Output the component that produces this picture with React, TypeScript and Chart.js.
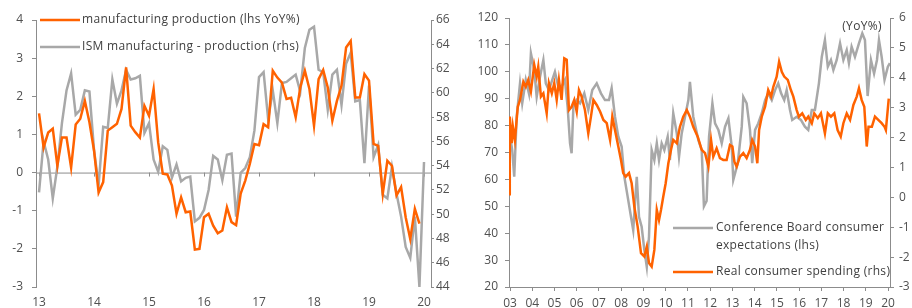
import React, { useEffect, useRef } from "react";
import { Chart, registerables } from "chart.js";

Chart.register(...registerables);

const ORANGE = "#FF6200";
const GREY = "#A8A8A8";
const AXIS = "#8C8C8C";
const TEXT = "#505050";
const FONT = "'Open Sans', 'Noto Sans', sans-serif";

// ---------- Left panel: manufacturing (monthly, from Jan 2013) ----------
const leftStartYear = 2013;
const leftTickYears = [2013, 2014, 2015, 2016, 2017, 2018, 2019, 2020];
const mfgProductionYoY = [
  1.55, 0.66, 1.05, 1.15, 0.18, 0.92, 0.92, 0.13, 1.26, 1.41,
  1.88, 1.32, 0.58, -0.52, -0.25, 1.1, 1.19, 1.28, 1.67, 2.76,
  1.23, 1.06, 0.92, 1.75, 1.49, 2.19, 0.79, -0.03, -0.05, -0.34,
  -1.08, -0.65, -1.04, -1.02, -2.02, -2.0, -1.17, -1.08, -1.39, -1.59,
  -1.52, -0.91, -1.3, -1.38, -0.55, -0.21, 0.23, 0.75, 0.72, 1.27,
  1.19, 2.67, 2.49, 2.36, 1.93, 1.96, 1.45, 2.23, 2.67, 2.19,
  1.23, 2.45, 2.69, 2.23, 1.36, 1.88, 2.28, 3.28, 3.45, 1.97,
  1.97, 2.58, 2.41, 0.75, 0.7, -0.56, 0.31, 0.18, -0.6, -0.38,
  -1.17, -1.74, -0.95, -1.34,
];
const ismProduction = [
  51.8, 56.0, 54.5, 51.3, 53.9, 57.5, 60.2, 61.6, 58.2, 58.6,
  60.2, 60.1, 55.3, 52.4, 57.2, 57.1, 61.1, 59.1, 60.2, 61.9,
  61.1, 61.2, 61.4, 56.7, 57.5, 54.5, 53.5, 55.6, 55.3, 53.0,
  54.1, 52.7, 53.0, 53.1, 49.4, 49.7, 50.35, 52.0, 54.8, 54.5,
  52.8, 54.9, 55.0, 49.8, 53.4, 53.8, 54.7, 56.9, 61.3, 61.7,
  57.8, 60.2, 57.5, 60.8, 60.9, 61.2, 61.5, 60.1, 63.7, 65.2,
  65.45, 61.9, 61.7, 58.6, 61.5, 61.9, 59.0, 62.4, 63.3, 59.3,
  59.4, 54.2, 60.6, 54.7, 55.7, 51.6, 51.3, 53.9, 51.7, 49.8,
  47.3, 46.4, 49.8, 44.0, 54.3,
];
const leftLabels = ["manufacturing production (lhs YoY%)", "ISM manufacturing - production (rhs)"];

// ---------- Right panel: consumer ----------
const rightTickYears = [
  2003, 2004, 2005, 2006, 2007, 2008, 2009, 2010, 2011,
  2012, 2013, 2014, 2015, 2016, 2017, 2018, 2019, 2020,
];
const cbYears = [
  2002.96, 2003.1, 2003.19, 2003.3, 2003.45, 2003.55, 2003.71, 2003.85, 2003.94, 2004.09,
  2004.2, 2004.35, 2004.5, 2004.61, 2004.75, 2004.9, 2005.02, 2005.17, 2005.32, 2005.47,
  2005.59, 2005.7, 2005.77, 2005.85, 2006.0, 2006.15, 2006.34, 2006.52, 2006.7, 2006.9,
  2007.09, 2007.27, 2007.45, 2007.57, 2007.72, 2007.87, 2008.02, 2008.14, 2008.29, 2008.44,
  2008.54, 2008.7, 2008.8, 2008.92, 2009.04, 2009.15, 2009.25, 2009.37, 2009.49, 2009.6,
  2009.7, 2009.82, 2009.94, 2010.09, 2010.19, 2010.34, 2010.5, 2010.6, 2010.72, 2010.87,
  2011.02, 2011.09, 2011.24, 2011.47, 2011.62, 2011.72, 2011.84, 2011.95, 2012.1, 2012.22,
  2012.37, 2012.52, 2012.67, 2012.82, 2012.97, 2013.04, 2013.24, 2013.42, 2013.49, 2013.64,
  2013.79, 2013.89, 2014.02, 2014.16, 2014.32, 2014.47, 2014.61, 2014.77, 2014.92, 2015.06,
  2015.19, 2015.33, 2015.44, 2015.59, 2015.69, 2015.89, 2016.08, 2016.26, 2016.41, 2016.57,
  2016.71, 2016.89, 2017.02, 2017.16, 2017.29, 2017.43, 2017.54, 2017.69, 2017.84, 2017.99,
  2018.14, 2018.24, 2018.36, 2018.51, 2018.69, 2018.84, 2018.96, 2019.08, 2019.23, 2019.37,
  2019.5, 2019.59, 2019.71, 2019.84, 2019.99, 2020.08,
];
const cbExpectations = [
  78.4, 70.9, 61.0, 83.3, 95.7, 88.3, 97, 92, 106.9, 100.7,
  90.7, 98.2, 104.4, 95.7, 93.2, 97, 100, 94.5, 94.5, 97,
  87, 73.4, 69.7, 87, 89.5, 88.3, 92, 85.8, 93.2, 95.7,
  92, 89.5, 89.5, 93.9, 83.3, 75.9, 72.2, 61.0, 53.6, 46.1,
  41.2, 61.0, 46.1, 42.4, 33.8, 27.5, 38.7, 70.9, 67.2, 73.4,
  67.2, 73.4, 70.9, 75.9, 67.2, 84.6, 77.1, 68.4, 77.1, 83.3,
  89.5, 96.3, 83.3, 74.6, 70.9, 50, 52, 75.9, 88.3, 80.8,
  78.4, 73.4, 79.6, 82.7, 72.2, 59.8, 66, 79.6, 90.7, 88.3,
  78.4, 66, 78.4, 80.8, 84.6, 89.5, 92, 89.5, 93.2, 95.7,
  92, 89.5, 93.2, 85.8, 82.1, 83.3, 82.1, 79.6, 78.4, 85.8,
  85.8, 95.7, 105.6, 111.8, 101.9, 104.4, 100.7, 104.4, 110.6, 104.4,
  108.1, 103.2, 109.3, 105.6, 110.6, 114.3, 111.8, 91, 104.4, 99.4,
  104.4, 111.8, 105.6, 97, 101.9, 103.2,
];
const spendYears = [
  2002.96, 2002.99, 2003.08, 2003.13, 2003.22, 2003.35, 2003.45, 2003.6, 2003.71, 2003.82,
  2003.94, 2004.09, 2004.2, 2004.27, 2004.39, 2004.5, 2004.65, 2004.75, 2004.88, 2004.99,
  2005.1, 2005.2, 2005.32, 2005.44, 2005.55, 2005.65, 2005.77, 2005.89, 2006.0, 2006.1,
  2006.22, 2006.37, 2006.52, 2006.64, 2006.75, 2006.9, 2007.05, 2007.2, 2007.35, 2007.5,
  2007.6, 2007.72, 2007.87, 2007.99, 2008.09, 2008.2, 2008.35, 2008.47, 2008.59, 2008.74,
  2008.89, 2009.04, 2009.15, 2009.25, 2009.37, 2009.49, 2009.6, 2009.7, 2009.79, 2009.89,
  2010.0, 2010.12, 2010.24, 2010.34, 2010.5, 2010.64, 2010.79, 2010.95, 2011.09, 2011.24,
  2011.44, 2011.62, 2011.77, 2011.92, 2012.04, 2012.14, 2012.29, 2012.44, 2012.59, 2012.74,
  2012.89, 2013.0, 2013.09, 2013.19, 2013.34, 2013.49, 2013.64, 2013.79, 2013.89, 2014.02,
  2014.12, 2014.2, 2014.32, 2014.47, 2014.61, 2014.74, 2014.84, 2014.99, 2015.1, 2015.22,
  2015.33, 2015.49, 2015.63, 2015.74, 2015.89, 2015.99, 2016.14, 2016.3, 2016.41, 2016.57,
  2016.68, 2016.84, 2016.98, 2017.16, 2017.29, 2017.43, 2017.58, 2017.73, 2017.87, 2017.99,
  2018.14, 2018.29, 2018.44, 2018.59, 2018.69, 2018.81, 2018.93, 2019.04, 2019.12, 2019.27,
  2019.41, 2019.56, 2019.71, 2019.84, 2019.9, 2020.03,
];
const realSpendingYoY = [
  0.1, 2.7, 1.81, 2.36, 1.92, 3.03, 3.26, 3.87, 3.7, 3.93,
  3.54, 4.43, 4.04, 4.37, 3.37, 3.48, 2.81, 3.82, 3.48, 3.82,
  3.26, 3.93, 3.26, 4.65, 4.6, 2.92, 3.03, 3.26, 2.87, 3.59,
  3.37, 2.92, 2.14, 2.7, 3.26, 3.09, 2.87, 2.59, 2.48, 1.92,
  2.7, 2.25, 1.7, 1.25, 0.81, 0.69, 0.81, 0.47, -0.31, -0.98,
  -1.87, -1.98, -1.65, -2.2, -2.32, -1.76, -0.42, -0.76, -0.42, 0.02,
  0.47, 1.14, 1.59, 1.92, 1.81, 2.36, 2.7, 2.92, 2.7, 2.36,
  2.03, 1.59, 1.48, 1.03, 1.92, 1.36, 1.64, 1.31, 1.25, 1.25,
  1.75, 1.7, 1.19, 1.03, 1.36, 1.48, 1.31, 1.59, 1.92, 1.7,
  1.14, 2.25, 2.7, 3.03, 3.59, 3.37, 3.7, 4.04, 4.54, 4.2,
  4.04, 3.93, 3.59, 3.37, 2.92, 2.7, 2.81, 2.59, 2.7, 2.48,
  2.81, 2.65, 2.81, 2.14, 2.81, 2.7, 2.81, 2.25, 2.03, 2.48,
  2.81, 2.59, 3.09, 3.37, 3.65, 3.26, 3.03, 1.7, 2.36, 2.36,
  2.7, 2.59, 2.48, 2.36, 2.25, 3.3,
];
const rightLabels = [["Conference Board consumer", "expectations (lhs)"], ["Real consumer spending (rhs)"]];
const rightUnit = "(YoY%)";

const yearLabel = (v: number) => String(Math.round(v)).slice(2);

function tickFont() {
  return { family: FONT, size: 12 };
}

function spaced(ctx: any) {
  try {
    ctx.letterSpacing = "0.3px";
  } catch (e) {
    /* ignore */
  }
}

function leftConfig(): any {
  const monthly = (arr: number[]) => arr.map((v, i) => ({ x: leftStartYear + i / 12, y: v }));
  const overlay = {
    id: "leftOverlay",
    beforeDatasetsDraw(chart: any) {
      const { ctx, chartArea, scales } = chart;
      const y0 = scales.y.getPixelForValue(0);
      ctx.save();
      ctx.strokeStyle = AXIS;
      ctx.lineWidth = 1;
      ctx.beginPath();
      ctx.moveTo(chartArea.left, y0 + 0.5);
      ctx.lineTo(chartArea.right, y0 + 0.5);
      leftTickYears.forEach((yr) => {
        const x = Math.round(scales.x.getPixelForValue(yr)) + 0.5;
        ctx.moveTo(x, y0);
        ctx.lineTo(x, y0 + 4);
      });
      ctx.stroke();
      ctx.restore();
    },
    afterDatasetsDraw(chart: any) {
      const { ctx } = chart;
      ctx.save();
      spaced(ctx);
      ctx.font = `12px ${FONT}`;
      ctx.textBaseline = "middle";
      ctx.textAlign = "left";
      const items = [
        { color: ORANGE, y: 20 },
        { color: GREY, y: 47 },
      ];
      items.forEach((it, i) => {
        ctx.strokeStyle = it.color;
        ctx.lineWidth = 2.5;
        ctx.beginPath();
        ctx.moveTo(40, it.y);
        ctx.lineTo(80, it.y);
        ctx.stroke();
        ctx.fillStyle = "#404040";
        ctx.fillText(leftLabels[i], 82, it.y);
      });
      ctx.restore();
    },
  };
  return {
    type: "line",
    data: {
      datasets: [
        { label: leftLabels[0], data: monthly(mfgProductionYoY), borderColor: ORANGE, yAxisID: "y" },
        { label: leftLabels[1], data: monthly(ismProduction), borderColor: GREY, yAxisID: "y1" },
      ],
    },
    options: {
      animation: false,
      responsive: false,
      maintainAspectRatio: false,
      layout: { padding: { top: 20, left: 0, right: 0, bottom: 0 } },
      elements: { point: { radius: 0 }, line: { borderWidth: 2.5, tension: 0, fill: false } },
      plugins: { legend: { display: false }, tooltip: { enabled: false } },
      scales: {
        x: {
          type: "linear",
          min: 2012.945,
          max: 2020.127,
          grid: { display: false, drawTicks: false },
          border: { display: false },
          afterBuildTicks: (s: any) => {
            s.ticks = leftTickYears.map((v) => ({ value: v }));
          },
          ticks: { autoSkip: false, maxRotation: 0, padding: 8, color: TEXT, font: tickFont(), callback: (v: any) => yearLabel(v) },
          afterFit: (s: any) => {
            s.height = 21;
          },
        },
        y: {
          position: "left",
          min: -3,
          max: 4,
          grid: { drawOnChartArea: false, tickLength: 4, color: AXIS },
          border: { color: AXIS },
          ticks: { stepSize: 1, padding: 9, color: TEXT, font: tickFont() },
          afterFit: (s: any) => {
            s.width = 36;
          },
        },
        y1: {
          position: "right",
          min: 44,
          max: 66,
          grid: { drawOnChartArea: false, tickLength: 3, color: AXIS },
          border: { color: AXIS },
          ticks: { stepSize: 2, padding: 2, color: TEXT, font: tickFont() },
          afterFit: (s: any) => {
            s.width = 29;
          },
        },
      },
    },
    plugins: [overlay],
  };
}

function rightConfig(): any {
  const pairs = (xs: number[], ys: number[]) => ys.map((v, i) => ({ x: xs[i], y: v }));
  const overlay = {
    id: "rightOverlay",
    afterDatasetsDraw(chart: any) {
      const { ctx } = chart;
      ctx.save();
      spaced(ctx);
      ctx.font = `12px ${FONT}`;
      ctx.textBaseline = "middle";
      ctx.fillStyle = "#404040";
      ctx.textAlign = "center";
      ctx.fillText(rightUnit, 402, 27);
      ctx.textAlign = "left";
      const items = [
        { color: GREY, y: 228 },
        { color: ORANGE, y: 272 },
      ];
      items.forEach((it, i) => {
        ctx.strokeStyle = it.color;
        ctx.lineWidth = 2.5;
        ctx.beginPath();
        ctx.moveTo(213, it.y);
        ctx.lineTo(253, it.y);
        ctx.stroke();
        ctx.fillStyle = "#404040";
        rightLabels[i].forEach((line, j) => ctx.fillText(line, 256, it.y + j * 17.5));
      });
      ctx.restore();
    },
  };
  return {
    type: "line",
    data: {
      datasets: [
        { label: rightLabels[1][0], data: pairs(spendYears, realSpendingYoY), borderColor: ORANGE, yAxisID: "y1" },
        { label: rightLabels[0].join(" "), data: pairs(cbYears, cbExpectations), borderColor: GREY, yAxisID: "y" },
      ],
    },
    options: {
      animation: false,
      responsive: false,
      maintainAspectRatio: false,
      layout: { padding: { top: 18, left: 0, right: 0, bottom: 0 } },
      elements: { point: { radius: 0 }, line: { borderWidth: 2.5, tension: 0, fill: false } },
      plugins: { legend: { display: false }, tooltip: { enabled: false } },
      scales: {
        x: {
          type: "linear",
          min: 2002.955,
          max: 2020.086,
          grid: { drawOnChartArea: false, tickLength: 4, color: AXIS },
          border: { color: AXIS },
          afterBuildTicks: (s: any) => {
            s.ticks = rightTickYears.map((v) => ({ value: v }));
          },
          ticks: { autoSkip: false, maxRotation: 0, padding: 5, color: TEXT, font: tickFont(), callback: (v: any) => yearLabel(v) },
          afterFit: (s: any) => {
            s.height = 21;
          },
        },
        y: {
          position: "left",
          min: 20,
          max: 120,
          grid: { drawOnChartArea: false, tickLength: 4, color: AXIS },
          border: { color: AXIS },
          ticks: { stepSize: 10, padding: 7, color: TEXT, font: tickFont() },
          afterFit: (s: any) => {
            s.width = 49;
          },
        },
        y1: {
          position: "right",
          min: -3,
          max: 6,
          grid: { drawOnChartArea: false, tickLength: 4, color: AXIS },
          border: { color: AXIS },
          ticks: { stepSize: 1, padding: 5, color: TEXT, font: tickFont() },
          afterFit: (s: any) => {
            s.width = 22;
          },
        },
      },
    },
    plugins: [overlay],
  };
}

export default function App() {
  const leftRef = useRef<HTMLCanvasElement>(null);
  const rightRef = useRef<HTMLCanvasElement>(null);
  useEffect(() => {
    Chart.defaults.font.family = FONT;
    const left = new Chart(leftRef.current as HTMLCanvasElement, leftConfig());
    const right = new Chart(rightRef.current as HTMLCanvasElement, rightConfig());
    return () => {
      left.destroy();
      right.destroy();
    };
  }, []);
  return (
    <div style={{ position: "fixed", left: 0, top: 0, width: 912, height: 308, background: "#fff", overflow: "hidden" }}>
      <canvas ref={leftRef} width={460} height={308} style={{ position: "absolute", left: 0, top: 0, width: 460, height: 308 }} />
      <canvas ref={rightRef} width={452} height={308} style={{ position: "absolute", left: 460, top: 0, width: 452, height: 308 }} />
    </div>
  );
}
